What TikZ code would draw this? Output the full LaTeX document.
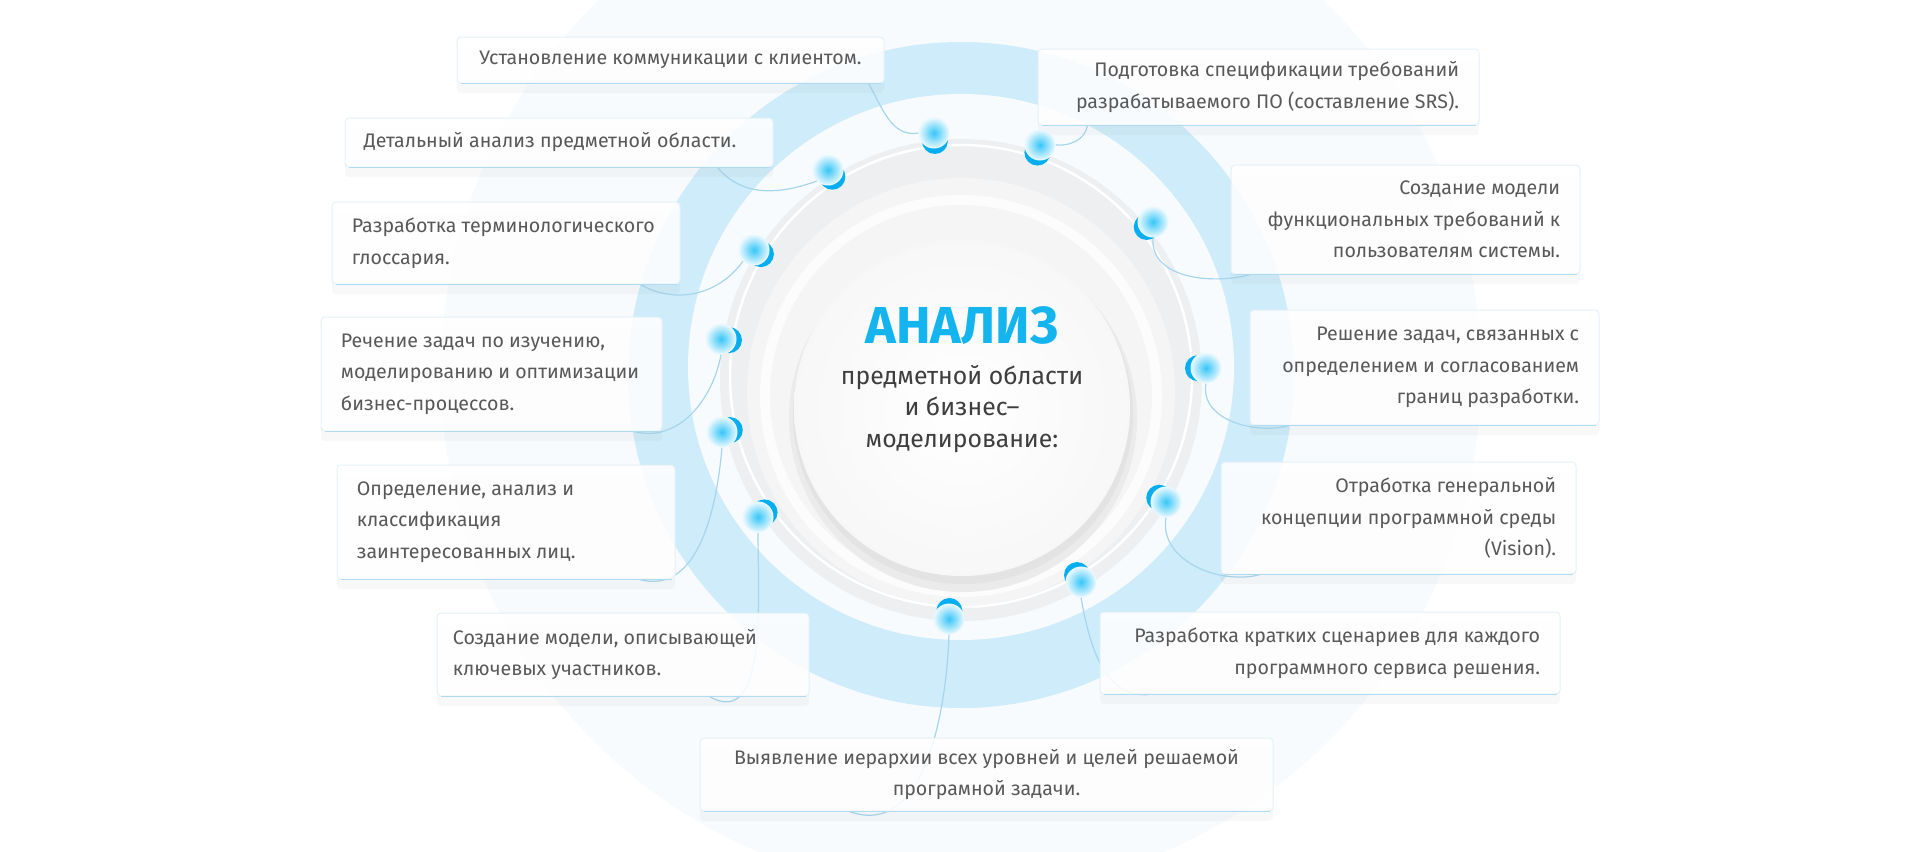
\documentclass[tikz,border=0pt]{standalone}
\usepackage{fontspec}
\setmainfont{Fira Sans}
\usetikzlibrary{calc,shadows}
\pgfdeclarelayer{back}
\pgfsetlayers{back,main}
\definecolor{txtgray}{RGB}{88,88,88}
\definecolor{subgray}{RGB}{62,62,62}
\definecolor{titlecyan}{RGB}{20,180,239}
\definecolor{ringblue}{RGB}{206,236,250}
\definecolor{linkblue}{RGB}{166,214,238}
\definecolor{boxedge}{RGB}{228,241,248}
\definecolor{boxline}{RGB}{175,220,242}
\definecolor{dotblue}{RGB}{5,174,240}
\definecolor{glassin}{RGB}{55,198,247}
\definecolor{glassout}{RGB}{232,248,254}
\definecolor{faint}{RGB}{248,251,254}
\definecolor{plate}{RGB}{248,251,253}
\definecolor{rim}{RGB}{237,239,241}

\begin{document}
\begin{tikzpicture}[x=0.5pt,y=-0.5pt,
  itembox/.style={rectangle, rounded corners=2pt, fill=white, fill opacity=0.86,
    draw=boxedge, line width=0.5pt, inner sep=0pt,
    drop shadow={shadow xshift=0pt, shadow yshift=-5pt, opacity=0.05}},
  itemtext/.style={inner sep=0pt, text=txtgray, font=\fontsize{9.8}{15.8}\selectfont},
  glass/.style={circle, minimum size=15pt, inner sep=0pt,
    inner color=glassin, outer color=glassout, draw=glassout, line width=0.5pt},
  link/.style={draw=linkblue, line width=0.6pt}]

  % okvir
  \useasboundingbox (0,0) rectangle (1920,851);
  \coordinate (ctr) at (961,373);

  % krogi v ozadju
  \begin{pgfonlayer}{back}
    \fill[white] (0,0) rectangle (1920,851);
    \fill[faint] (961,373) circle (520);
    \fill[ringblue] (961,375) circle (333);
    \fill[plate] (961,367) circle (273);
    \fill[rim] (961,380) circle (241);
    \draw[white, line width=1.2pt] (961,376) circle (231);
    \fill[black!4] (961,392) circle (214);
    \draw[white!70!black!4, line width=5pt] (961,396) circle (196);
    \fill[black!8] (963,418) circle (174);
    \fill[black!11] (963,414) circle (170);
    \shade[inner color=white, outer color=black!3] (962,408) circle (168);
  \end{pgfonlayer}

  % sredina
  \node[text=titlecyan, font=\fontsize{26}{30}\selectfont\bfseries] (title) at (962,325) {АНАЛИЗ};
  \node[text=subgray, font=\fontsize{12.4}{15.8}\selectfont, align=center, anchor=north]
    (sub) at (962,358) {предметной области\\и бизнес–\\моделирование:};

  % bloki
  \node[itembox, minimum width=213.5pt, minimum height=23pt] (b1) at (670.5,60) {};
  \node[itemtext] (t1) at (b1.center) {Установление коммуникации с клиентом.};
  \node[itembox, minimum width=220.5pt, minimum height=38pt] (b2) at (1258.5,87) {};
  \node[itemtext, align=right, anchor=east] (t2) at ([xshift=-10pt]b2.east)
    {Подготовка спецификации требований\\разрабатываемого ПО (составление SRS).};
  \node[itembox, minimum width=214pt, minimum height=24.5pt] (b3) at (559,142.5) {};
  \node[itemtext, anchor=west] (t3) at ([xshift=9.5pt]b3.west) {Детальный анализ предметной области.};
  \node[itembox, minimum width=174.5pt, minimum height=54.5pt] (b4) at (1405.5,219.5) {};
  \node[itemtext, align=right, anchor=east] (t4) at ([xshift=-10pt]b4.east)
    {Создание модели\\функциональных требований к\\пользователям системы.};
  \node[itembox, minimum width=174pt, minimum height=41pt] (b5) at (506,243) {};
  \node[itemtext, align=left, anchor=west] (t5) at ([xshift=10pt]b5.west)
    {Разработка терминологического\\глоссария.};
  \node[itembox, minimum width=174.5pt, minimum height=57.5pt] (b6) at (1424.5,367.5) {};
  \node[itemtext, align=right, anchor=east] (t6) at ([xshift=-10pt]b6.east)
    {Решение задач, связанных с\\определением и согласованием\\границ разработки.};
  \node[itembox, minimum width=170.5pt, minimum height=57pt] (b7) at (491.5,374) {};
  \node[itemtext, align=left, anchor=west] (t7) at ([xshift=10pt]b7.west)
    {Речение задач по изучению,\\моделированию и оптимизации\\бизнес-процессов.};
  \node[itembox, minimum width=177.5pt, minimum height=56pt] (b8) at (1398.5,518) {};
  \node[itemtext, align=right, anchor=east] (t8) at ([xshift=-10pt]b8.east)
    {Отработка генеральной\\концепции программной среды\\(Vision).};
  \node[itembox, minimum width=169pt, minimum height=57pt] (b9) at (506,522) {};
  \node[itemtext, align=left, anchor=west] (t9) at ([xshift=10pt]b9.west)
    {Определение, анализ и\\классификация\\заинтересованных лиц.};
  \node[itembox, minimum width=230pt, minimum height=41pt] (b10) at (1330,653) {};
  \node[itemtext, align=right, anchor=east] (t10) at ([xshift=-10pt]b10.east)
    {Разработка кратких сценариев для каждого\\программного сервиса решения.};
  \node[itembox, minimum width=186pt, minimum height=41.5pt] (b11) at (623,654.5) {};
  \node[itemtext, align=left, anchor=west] (t11) at ([xshift=8pt]b11.west)
    {Создание модели, описывающей\\ключевых участников.};
  \node[itembox, minimum width=286.5pt, minimum height=36.5pt] (b12) at (986.5,774.5) {};
  \node[itemtext, align=center] (t12) at (b12.center)
    {Выявление иерархии всех уровней и целей решаемой\\програмной задачи.};

  % spodnji rob blokov
  \foreach \b in {1,...,12}
    \draw[boxline, line width=0.7pt] ([xshift=2pt]b\b.south west) -- ([xshift=-2pt]b\b.south east);

  % tocke
  \foreach \n/\x/\y in {1/934/133, 2/1040/145, 3/828/170, 4/1153/222, 5/754/250, 6/1206/368,
      7/721/339, 8/1166/502, 9/722/432, 10/1081/582, 11/758/517, 12/949/619} {
    \fill[dotblue] ($(\x,\y)!4pt!(ctr)$) circle (13);
    \node[glass] (d\n) at (\x,\y) {};
  }

  % povezave
  \begin{pgfonlayer}{back}
    \draw[link] ([xshift=-8pt]b1.south east) to[out=-60, in=190] (d1.west);
    \draw[link] (d2.east) to[out=-5, in=-100] ([xshift=25pt]b2.south west);
    \draw[link] ([xshift=-28pt]b3.south east) to[out=-50, in=200] (d3.south west);
    \draw[link] (d4.south) to[out=-95, in=195] ([xshift=10pt]b4.south west);
    \draw[link] ([xshift=-20pt]b5.south east) to[out=-30, in=235] (d5.south west);
    \draw[link] (d6.south) to[out=-100, in=195] ([xshift=20pt]b6.south west);
    \draw[link] ([xshift=-14pt]b7.south east) to[out=-15, in=-100] (d7.south);
    \draw[link] (d8.south) to[out=-100, in=195] ([xshift=20pt]b8.south west);
    \draw[link] ([xshift=-18pt]b9.south east) to[out=-15, in=-95] (d9.south);
    \draw[link] (d10.south) to[out=-80, in=185] ([xshift=25pt]b10.south west);
    \draw[link] (d11.south) to[out=-90, in=-30] ([xshift=-50pt]b11.south east);
    \draw[link] (d12.south) to[out=-92, in=-20] ([xshift=75pt]b12.south west);
  \end{pgfonlayer}

\end{tikzpicture}
\end{document}
